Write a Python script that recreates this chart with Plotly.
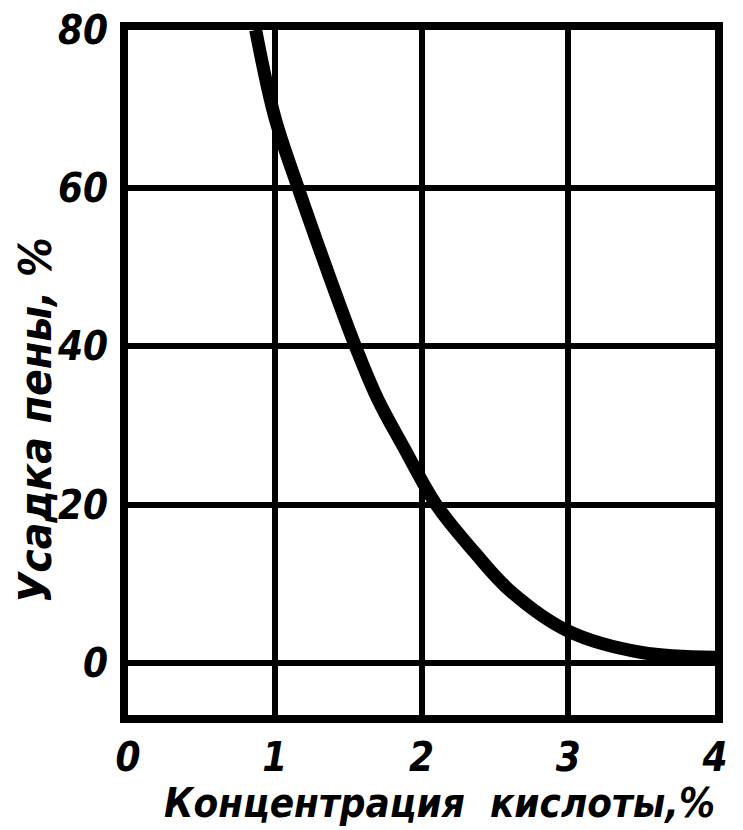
import plotly.graph_objects as go

# concentration of acid, %
concentration = [0.87, 1.0, 1.16, 1.35, 1.55, 1.70, 1.88, 2.10, 2.36, 2.61, 3.0, 3.5, 4.0]
# foam shrinkage, %
shrinkage = [80, 69, 60, 50, 40, 33.4, 27.2, 20, 14, 9, 4, 1.3, 0.7]

x_ticks = [0, 1, 2, 3, 4]
y_ticks = [0, 20, 40, 60, 80]

FONT = "DejaVu Sans Condensed, Liberation Sans Narrow, DejaVu Sans, sans-serif"

fig = go.Figure()
fig.add_trace(go.Scatter(
    x=concentration,
    y=shrinkage,
    mode="lines",
    line=dict(color="black", width=13, shape="spline", smoothing=1.0),
    showlegend=False,
    hoverinfo="skip",
))

axis_common = dict(
    showline=True, linecolor="black", linewidth=8, mirror=True,
    showgrid=True, gridcolor="black", gridwidth=6,
    zeroline=False, ticks="", ticklabeloverflow="allow", automargin=False,
    tickfont=dict(family=FONT, size=40, color="black", weight="bold", style="italic"),
)

fig.update_xaxes(range=[0, 4], tickvals=x_ticks, ticklabelstandoff=0, **axis_common)
fig.update_yaxes(range=[-6.6, 80], tickvals=y_ticks, ticklabelstandoff=4, **axis_common)

title_font = dict(family=FONT, color="black", weight="bold", style="italic")

# axis titles as annotations so they sit where the original has them
fig.add_annotation(
    text="Концентрация  кислоты,%", showarrow=False,
    xref="paper", yref="paper", x=0.53, y=-0.128, xanchor="center", yanchor="middle",
    font=dict(size=40, **title_font),
)
fig.add_annotation(
    text="Усадка пены, %", textangle=-90, showarrow=False,
    xref="paper", yref="paper", x=-0.157, y=0.43, xanchor="center", yanchor="middle",
    font=dict(size=44, **title_font),
)

fig.update_layout(
    width=743, height=830,
    margin=dict(l=120, r=36, t=22, b=123),
    paper_bgcolor="white", plot_bgcolor="white",
)

fig.write_html("out.html")
